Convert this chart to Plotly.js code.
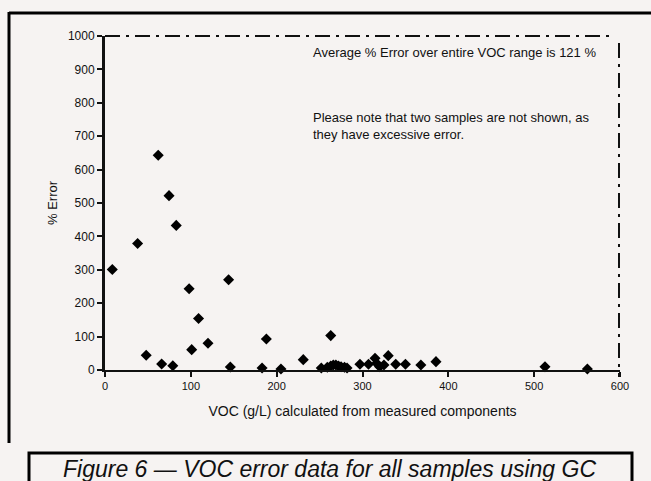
<!DOCTYPE html>
<html>
<head>
<meta charset="utf-8">
<script src="https://cdn.plot.ly/plotly-3.0.1.min.js"></script>
<style>
html,body{margin:0;padding:0;background:#f6f3f2;}
#chart{width:651px;height:481px;}
</style>
</head>
<body>
<div id="chart"></div>
<script>
// VOC (g/L) calculated from measured components
var vocValues = [8.5, 38, 48, 62, 66, 74.6, 79, 83, 98, 101, 109, 120, 144, 146,
  183, 188, 202, 205, 231, 252, 263,
  259, 263, 266, 269, 272, 275, 279, 282,
  297, 307, 314.6, 316.5, 320, 325, 330, 338.7, 350, 368, 385.6, 512.6, 562];
// % Error
var errorValues = [301, 379, 44, 643, 18, 522, 13, 433, 243, 61, 154, 80, 270, 9,
  6, 93, -2, 3, 31, 6, 103,
  8, 12, 15, 15, 12, 10, 8, 6,
  17, 17, 35, 20, 10, 15, 43, 17, 17, 15, 25, 10, 3];

var xTicks = [0, 100, 200, 300, 400, 500, 600];
var yTicks = [0, 100, 200, 300, 400, 500, 600, 700, 800, 900, 1000];

var noteAverage = "Average % Error over entire VOC range is 121 %";
var noteMissing = "Please note that two samples are not shown, as<br>they have excessive error.";
var captionText = "Figure 6 \u2014 VOC error data for all samples using GC";

var trace = {
  x: vocValues,
  y: errorValues,
  type: 'scatter',
  mode: 'markers',
  cliponaxis: false,
  marker: {symbol: 'diamond', size: 8.5, color: '#000000'},
  hoverinfo: 'x+y'
};

var px = function(v){ return (v - 105) / 515; };
var py = function(v){ return (370 - v) / 334; };

var layout = {
  width: 651, height: 481,
  margin: {l: 105, r: 31, t: 36, b: 111},
  paper_bgcolor: '#f6f3f2',
  plot_bgcolor: '#f6f3f2',
  showlegend: false,
  font: {family: 'Liberation Sans, Arial, sans-serif', size: 12, color: '#111111'},
  xaxis: {
    range: [0, 600],
    tickvals: xTicks,
    ticktext: xTicks.map(String),
    showgrid: false, zeroline: false,
    showline: true, linecolor: '#111111', linewidth: 2,
    ticks: 'outside', ticklen: 5, tickwidth: 2, tickcolor: '#111111',
    tickfont: {size: 11},
    title: {text: 'VOC (g/L) calculated from measured components', font: {size: 14}, standoff: 15}
  },
  yaxis: {
    range: [0, 1000],
    tickvals: yTicks,
    ticktext: yTicks.map(String),
    showgrid: false, zeroline: false,
    showline: true, linecolor: '#111111', linewidth: 3,
    ticks: 'outside', ticklen: 5, tickwidth: 2, tickcolor: '#111111',
    tickfont: {size: 12},
    title: {text: '% Error', font: {size: 13}, standoff: 8}
  },
  shapes: [
    // top dashed border of plot
    {type: 'line', xref: 'paper', yref: 'paper', x0: 0, x1: px(615), y0: 1, y1: 1,
     line: {color: '#111111', width: 2, dash: 'longdashdot'}},
    // right dashed border of plot
    {type: 'line', xref: 'paper', yref: 'paper', x0: px(619), x1: px(619), y0: py(43), y1: py(377),
     line: {color: '#111111', width: 2, dash: 'longdashdot'}},
    // outer frame: top and left
    {type: 'line', xref: 'paper', yref: 'paper', x0: px(9), x1: px(660), y0: py(13), y1: py(13),
     line: {color: '#000000', width: 3}},
    {type: 'line', xref: 'paper', yref: 'paper', x0: px(9), x1: px(9), y0: py(12), y1: py(443),
     line: {color: '#000000', width: 3}},
    // caption box
    {type: 'rect', xref: 'paper', yref: 'paper', x0: px(29), x1: px(632), y0: py(453), y1: py(495),
     line: {color: '#000000', width: 3}, fillcolor: '#f6f3f2'}
  ],
  annotations: [
    {xref: 'paper', yref: 'paper', x: px(311), y: py(52), xanchor: 'left', yanchor: 'middle',
     text: noteAverage, showarrow: false, font: {size: 13}, align: 'left'},
    {xref: 'paper', yref: 'paper', x: px(311), y: py(126), xanchor: 'left', yanchor: 'middle',
     text: noteMissing, showarrow: false, font: {size: 13}, align: 'left'},
    {xref: 'paper', yref: 'paper', x: px(329), y: py(469), xanchor: 'center', yanchor: 'middle',
     text: '<i>' + captionText + '</i>', showarrow: false,
     font: {size: 23, family: 'Liberation Sans, Arial, sans-serif', color: '#111111'}}
  ]
};

Plotly.newPlot('chart', [trace], layout, {displayModeBar: false, staticPlot: true});
</script>
</body>
</html>
